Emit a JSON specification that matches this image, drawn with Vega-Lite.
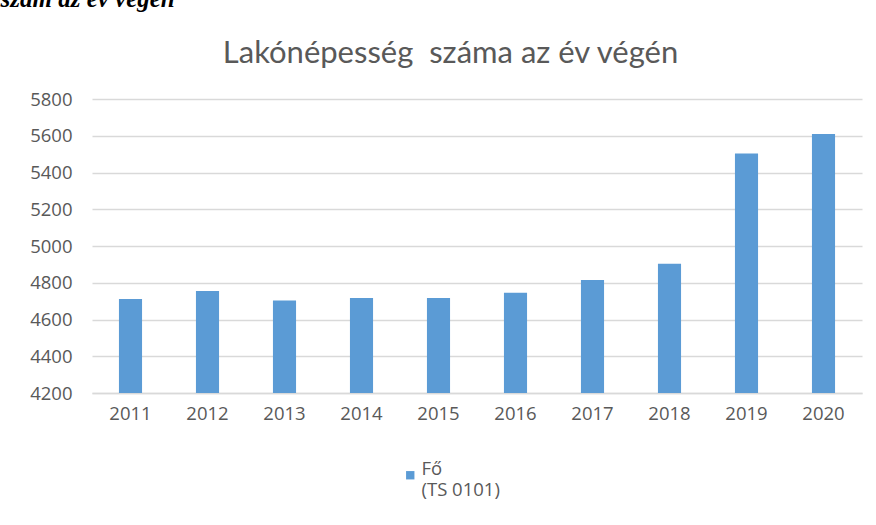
{
  "$schema": "https://vega.github.io/schema/vega-lite/v6.json",
  "autosize": "none",
  "width": 770,
  "height": 294,
  "padding": {"left": 92, "top": 99, "right": 14, "bottom": 132},
  "background": "white",
  "config": {
    "font": "Open Sans",
    "view": {"stroke": null}
  },
  "data": {
    "values": [
      {"ev": "2011", "fo": 4712, "sorozat": "Fő"},
      {"ev": "2012", "fo": 4755, "sorozat": "Fő"},
      {"ev": "2013", "fo": 4704, "sorozat": "Fő"},
      {"ev": "2014", "fo": 4717, "sorozat": "Fő"},
      {"ev": "2015", "fo": 4717, "sorozat": "Fő"},
      {"ev": "2016", "fo": 4746, "sorozat": "Fő"},
      {"ev": "2017", "fo": 4815, "sorozat": "Fő"},
      {"ev": "2018", "fo": 4904, "sorozat": "Fő"},
      {"ev": "2019", "fo": 5504, "sorozat": "Fő"},
      {"ev": "2020", "fo": 5609, "sorozat": "Fő"}
    ]
  },
  "mark": {"type": "bar", "clip": true},
  "encoding": {
    "x": {
      "field": "ev",
      "type": "ordinal",
      "scale": {"paddingInner": 0.7, "paddingOuter": 0.35},
      "axis": {
        "labelAngle": 0,
        "labelFont": "Open Sans",
        "labelFontSize": 18.5,
        "labelColor": "#595959",
        "labelPadding": 11,
        "ticks": false,
        "domain": true,
        "domainColor": "#D9D9D9",
        "domainWidth": 1.5,
        "title": "szám az év végén",
        "titleAngle": 0,
        "titleAlign": "left",
        "titleBaseline": "alphabetic",
        "titleX": -92,
        "titleY": -387,
        "titleFont": "Liberation Serif",
        "titleFontStyle": "italic",
        "titleFontWeight": "bold",
        "titleFontSize": 25,
        "titleColor": "#000000"
      }
    },
    "y": {
      "field": "fo",
      "type": "quantitative",
      "scale": {"domain": [4200, 5800], "zero": false, "nice": false},
      "axis": {
        "values": [4200, 4400, 4600, 4800, 5000, 5200, 5400, 5600, 5800],
        "format": "d",
        "labelFont": "Open Sans",
        "labelFontSize": 18.5,
        "labelColor": "#595959",
        "labelPadding": 20,
        "ticks": false,
        "domain": false,
        "gridColor": "#D9D9D9",
        "gridWidth": 1.5,
        "title": "Lakónépesség\u00a0 száma az év végén",
        "titleAngle": 0,
        "titleAlign": "center",
        "titleBaseline": "alphabetic",
        "titleX": 358,
        "titleY": -37,
        "titleFont": "Lato",
        "titleFontWeight": "normal",
        "titleFontSize": 31,
        "titleColor": "#595959"
      }
    },
    "color": {
      "field": "sorozat",
      "type": "nominal",
      "scale": {"range": ["#5B9BD5"]},
      "legend": {
        "title": null,
        "orient": "none",
        "legendX": 309,
        "legendY": 367,
        "symbolType": "square",
        "symbolSize": 70,
        "symbolOpacity": 1,
        "labelFont": "Open Sans",
        "labelFontSize": 18.5,
        "labelColor": "#595959",
        "labelExpr": "['Fő', '(TS 0101)']",
        "labelLineHeight": 24,
        "labelBaseline": "alphabetic",
        "labelOffset": 2
      }
    }
  }
}
